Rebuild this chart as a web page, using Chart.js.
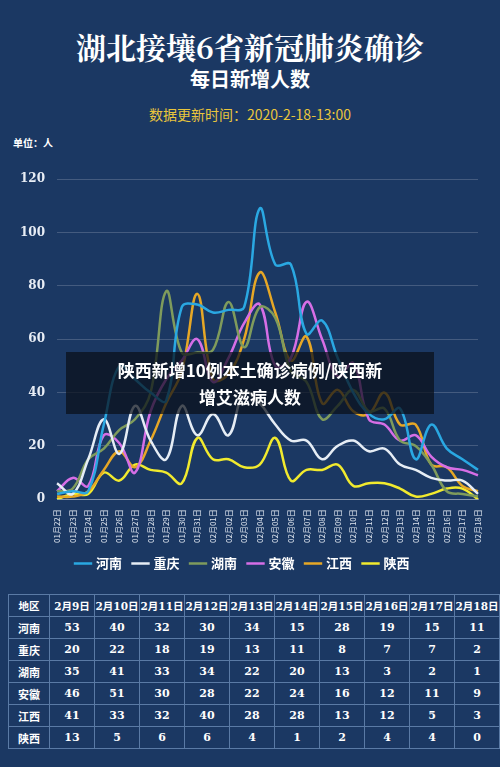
<!DOCTYPE html>
<html><head><meta charset="utf-8">
<script src="https://cdn.jsdelivr.net/npm/chart.js@4"></script>
<style>
body{margin:0;width:500px;height:767px;background:#1b3863;font-family:"Noto Sans CJK SC",sans-serif;position:relative;overflow:hidden;color:#fff}
.t1{position:absolute;top:24px;width:500px;text-align:center;font-size:30px;font-weight:bold;font-family:"Noto Serif CJK SC","Noto Sans CJK SC";}
.t2{position:absolute;top:64px;width:500px;text-align:center;font-size:20px;font-weight:bold}
.t3{position:absolute;top:104px;width:500px;text-align:center;font-size:14px;color:#e9c53c}
.unit{position:absolute;top:135px;left:13px;font-size:10px;font-weight:bold}
#wrap{position:absolute;top:160px;left:0;width:500px;height:420px}
.ov{position:absolute;left:66px;top:352px;width:368px;height:62px;background:rgba(10,15,25,0.72);font-size:17px;font-weight:bold;text-align:center;line-height:27px;padding-top:4px;box-sizing:border-box}
table{position:absolute;left:8px;top:594px;border-collapse:collapse;font-family:"DejaVu Serif",serif;font-weight:bold;font-size:11px}
td{border:1px solid #5a7aa5;height:21px;text-align:center;padding:0;width:44px}
td:first-child{width:40px;font-family:"Noto Sans CJK SC"}
tr:first-child td{font-family:"DejaVu Serif","Noto Sans CJK SC";font-size:10.5px}
</style></head><body>
<div class="t1">湖北接壤6省新冠肺炎确诊</div>
<div class="t2">每日新增人数</div>
<div class="t3">数据更新时间：2020-2-18-13:00</div>
<div class="unit">单位：人</div>
<div id="wrap"><canvas id="c"></canvas></div>
<div class="ov">陕西新增10例本土确诊病例/陕西新<br>增艾滋病人数</div>
<table id="tb"></table>
<script>
const categories=["01月22日","01月23日","01月24日","01月25日","01月26日","01月27日","01月28日","01月29日","01月30日","01月31日","02月01日","02月02日","02月03日","02月04日","02月05日","02月06日","02月07日","02月08日","02月09日","02月10日","02月11日","02月12日","02月13日","02月14日","02月15日","02月16日","02月17日","02月18日"];
const henan=[2,3,3,28,50,45,40,37,72,73,70,71,72,109,88,88,62,67,53,40,32,30,34,15,28,19,15,11];
const chongqing=[6,2,15,30,17,35,22,15,35,24,32,24,40,36,28,22,22,15,20,22,18,19,13,11,8,7,7,2];
const hunan=[3,4,15,19,26,30,40,78,55,55,56,74,57,72,68,48,44,30,35,41,33,34,22,20,13,3,2,1];
const anhui=[3,8,5,24,21,10,33,45,52,60,44,53,66,73,50,53,74,60,46,51,30,28,22,24,16,12,11,9];
const jiangxi=[1,1,3,11,18,12,22,36,48,77,45,47,60,85,70,52,61,36,41,33,32,40,28,28,13,12,5,3];
const shaanxi=[0,2,2,10,7,13,11,10,6,23,15,15,12,13,23,7,11,11,13,5,6,6,4,1,2,4,4,0];
const seriesNames=["河南","重庆","湖南","安徽","江西","陕西"];
const tableDays=["2月9日","2月10日","2月11日","2月12日","2月13日","2月14日","2月15日","2月16日","2月17日","2月18日"];
const yTicks=[0,20,40,60,80,100,120];
const all=[henan,chongqing,hunan,anhui,jiangxi,shaanxi];
const colors=["#2aa8e2","#e6edf5","#7f9b5c","#d66ee6","#e6a726","#f1ea2e"];
let h='<tr><td>地区</td>'+tableDays.map(d=>'<td>'+d+'</td>').join('')+'</tr>';
all.forEach((s,i)=>{h+='<tr><td>'+seriesNames[i]+'</td>'+s.slice(18).map(v=>'<td>'+v+'</td>').join('')+'</tr>';});
document.getElementById('tb').innerHTML=h;
new Chart(document.getElementById('c'),{type:'line',
data:{labels:categories,datasets:all.map((s,i)=>({label:seriesNames[i],data:s,borderColor:colors[i],backgroundColor:colors[i],borderWidth:2.5,pointRadius:0,tension:0.4}))},
options:{responsive:true,maintainAspectRatio:false,animation:false,
layout:{padding:{left:8,right:22,top:12,bottom:0}},
plugins:{legend:{position:'bottom',labels:{color:'#fff',font:{size:13,weight:'bold',family:'Noto Sans CJK SC'},usePointStyle:true,pointStyle:'line',boxWidth:22,padding:12}}},
scales:{y:{min:0,max:120,afterBuildTicks:a=>{a.ticks=yTicks.map(v=>({value:v}));},ticks:{color:'#e8edf5',font:{family:'DejaVu Serif',weight:'bold',size:12},padding:12},grid:{color:'rgba(255,255,255,0.18)',drawTicks:false},border:{display:false}},
x:{offset:false,ticks:{color:'#dde4ee',font:{size:8,family:'Noto Sans CJK SC'},padding:2,maxRotation:90,minRotation:90,autoSkip:false},grid:{display:false},border:{color:'rgba(255,255,255,0.35)'}}}}});
</script></body></html>
